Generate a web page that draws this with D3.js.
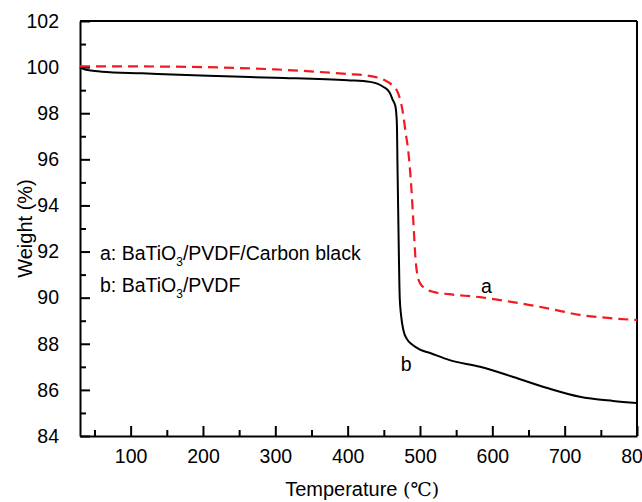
<!DOCTYPE html>
<html>
<head>
<meta charset="utf-8">
<script src="https://cdn.jsdelivr.net/npm/d3@7"></script>
<style>
  body { margin: 0; background: #fff; }
  text { font-family: "Liberation Sans", Arial, sans-serif; fill: #000; }
</style>
</head>
<body>
<div id="chart"></div>
<script>
// Series a: BaTiO3/PVDF/Carbon black (red dashed)
const tempA = [30, 100, 200, 300, 400, 430, 450, 462, 470, 476, 480, 484, 488, 491, 494, 497, 500, 510, 520, 540, 583, 620, 652, 690, 721, 760, 800];
const weightA = [100.03, 100.03, 100.0, 99.9, 99.7, 99.62, 99.45, 99.2, 98.85, 98.1, 97.2, 96.3, 94.8, 93.2, 91.6, 90.9, 90.63, 90.35, 90.24, 90.15, 90.02, 89.85, 89.68, 89.45, 89.25, 89.12, 89.03];

// Series b: BaTiO3/PVDF (black solid)
const tempB = [30, 35, 45, 60, 116, 207, 300, 400, 431, 449, 458, 462, 466, 468, 469, 470, 471, 472, 474, 477, 482, 490, 500, 514, 540, 583, 629, 676, 721, 767, 800];
const weightB = [100.0, 99.92, 99.85, 99.8, 99.73, 99.62, 99.54, 99.43, 99.36, 99.15, 98.9, 98.6, 98.3, 97.6, 95.5, 93.5, 91.5, 90.0, 89.2, 88.6, 88.2, 87.95, 87.75, 87.6, 87.3, 87.0, 86.56, 86.08, 85.7, 85.52, 85.43];

const xTicks = [100, 200, 300, 400, 500, 600, 700, 800];
const yTicks = [84, 86, 88, 90, 92, 94, 96, 98, 100, 102];

const W = 642, H = 502;
const margin = {top: 21, right: 5, bottom: 66, left: 80};
const width = W - margin.left - margin.right;
const height = H - margin.top - margin.bottom;

const svg = d3.select("#chart").append("svg")
    .attr("width", W)
    .attr("height", H);

const g = svg.append("g")
    .attr("transform", `translate(${margin.left},${margin.top})`);

const x = d3.scaleLinear().domain([30, 800]).range([0, width]);
const y = d3.scaleLinear().domain([84, 102]).range([height, 0]);

// minor ticks
const xMinor = d3.range(50, 800, 100);
const yMinor = d3.range(85, 102, 2);

// bottom axis, ticks pointing inward
const xAxis = g.append("g")
    .attr("transform", `translate(0,${height})`)
    .call(d3.axisBottom(x).tickValues(xTicks).tickSizeInner(-10).tickSizeOuter(0).tickPadding(13));
xAxis.selectAll("text").style("font-size", "19.5px");
g.append("g")
    .attr("transform", `translate(0,${height})`)
    .call(d3.axisBottom(x).tickValues(xMinor).tickSize(-6).tickFormat(""))
    .call(a => a.select(".domain").remove());

// left axis
const yAxis = g.append("g")
    .call(d3.axisLeft(y).tickValues(yTicks).tickSizeInner(-10).tickSizeOuter(0).tickPadding(21));
yAxis.selectAll("text").style("font-size", "19.5px");
g.append("g")
    .call(d3.axisLeft(y).tickValues(yMinor).tickSize(-6).tickFormat(""))
    .call(a => a.select(".domain").remove());

g.selectAll(".domain, .tick line").attr("stroke", "#000").attr("stroke-width", 2);

// frame top & right
g.append("line").attr("x1", 0).attr("x2", width).attr("y1", 0).attr("y2", 0)
    .attr("stroke", "#000").attr("stroke-width", 2);
g.append("line").attr("x1", width).attr("x2", width).attr("y1", 0).attr("y2", height)
    .attr("stroke", "#000").attr("stroke-width", 2);

// curves
const line = d3.line()
    .x(d => x(d[0]))
    .y(d => y(d[1]))
    .curve(d3.curveMonotoneX);

g.append("path")
    .datum(tempB.map((t, i) => [t, weightB[i]]))
    .attr("fill", "none")
    .attr("stroke", "#000")
    .attr("stroke-width", 2)
    .attr("d", line);

g.append("path")
    .datum(tempA.map((t, i) => [t, weightA[i]]))
    .attr("fill", "none")
    .attr("stroke", "#f5191e")
    .attr("stroke-width", 2.2)
    .attr("stroke-dasharray", "10,6")
    .attr("d", line);

// legend text
const legend = [
    {pre: "a: BaTiO", post: "/PVDF/Carbon black", yv: 91.62},
    {pre: "b: BaTiO", post: "/PVDF", yv: 90.25}
];
legend.forEach(l => {
    const t = g.append("text")
        .attr("x", 20)
        .attr("y", y(l.yv))
        .style("font-size", "19.5px");
    t.append("tspan").text(l.pre);
    t.append("tspan").attr("dy", 6).style("font-size", "12px").text("3");
    t.append("tspan").attr("dy", -6).text(l.post);
});

// curve labels
g.append("text").attr("x", x(592)).attr("y", y(90.2)).attr("text-anchor", "middle")
    .style("font-size", "19.5px").text("a");
g.append("text").attr("x", x(481)).attr("y", y(86.8)).attr("text-anchor", "middle")
    .style("font-size", "19.5px").text("b");

// axis titles
const xt = svg.append("text")
    .attr("x", margin.left + x(420))
    .attr("y", 496)
    .attr("text-anchor", "middle")
    .style("font-size", "20px");
xt.append("tspan").text("Temperature ");
xt.append("tspan").style("font-family", "'DejaVu Serif', 'Liberation Serif', serif").style("font-size", "19px").text("(℃)");

svg.append("text")
    .attr("transform", `translate(32,${margin.top + height / 2}) rotate(-90)`)
    .attr("text-anchor", "middle")
    .style("font-size", "20px")
    .text("Weight (%)");
</script>
</body>
</html>
